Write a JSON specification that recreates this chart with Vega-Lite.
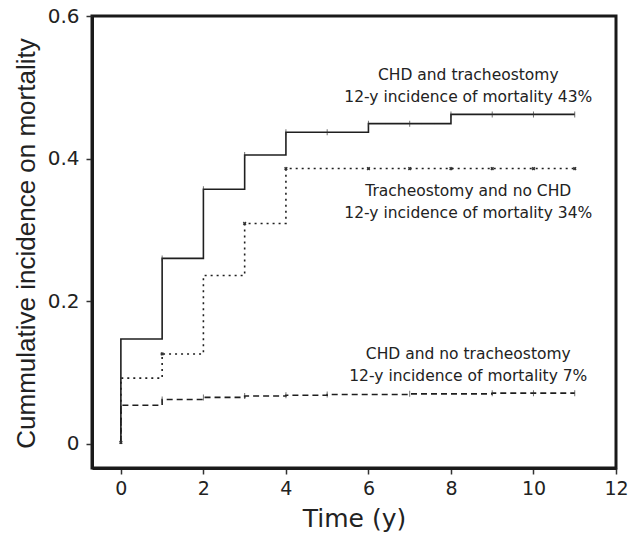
{
  "$schema": "https://vega.github.io/schema/vega-lite/v6.json",
  "autosize": {"type": "none"},
  "width": 524,
  "height": 452,
  "padding": {"left": 92, "top": 16, "right": 14, "bottom": 69},
  "background": "white",
  "config": {
    "view": {"stroke": "#1a1a1a", "strokeWidth": 3},
    "font": "DejaVu Sans",
    "axis": {
      "grid": false,
      "domainColor": "#1a1a1a",
      "domainWidth": 3,
      "tickColor": "#333",
      "tickWidth": 1.5,
      "tickSize": 6,
      "labelColor": "#222",
      "titleColor": "#222",
      "labelFont": "DejaVu Sans",
      "titleFont": "DejaVu Sans",
      "titleFontWeight": "normal"
    }
  },
  "datasets": {
    "curves": [
      {"group": "CHD and tracheostomy", "seq": 0, "t": 0, "y": 0},
      {"group": "CHD and tracheostomy", "seq": 1, "t": 0, "y": 0.147},
      {"group": "CHD and tracheostomy", "seq": 2, "t": 1, "y": 0.26},
      {"group": "CHD and tracheostomy", "seq": 3, "t": 2, "y": 0.357},
      {"group": "CHD and tracheostomy", "seq": 4, "t": 3, "y": 0.405},
      {"group": "CHD and tracheostomy", "seq": 5, "t": 4, "y": 0.437},
      {"group": "CHD and tracheostomy", "seq": 6, "t": 6, "y": 0.449},
      {"group": "CHD and tracheostomy", "seq": 7, "t": 8, "y": 0.462},
      {"group": "CHD and tracheostomy", "seq": 8, "t": 11, "y": 0.462},
      {"group": "Tracheostomy and no CHD", "seq": 0, "t": 0, "y": 0},
      {"group": "Tracheostomy and no CHD", "seq": 1, "t": 0, "y": 0.092},
      {"group": "Tracheostomy and no CHD", "seq": 2, "t": 1, "y": 0.126},
      {"group": "Tracheostomy and no CHD", "seq": 3, "t": 2, "y": 0.236},
      {"group": "Tracheostomy and no CHD", "seq": 4, "t": 3, "y": 0.309},
      {"group": "Tracheostomy and no CHD", "seq": 5, "t": 4, "y": 0.386},
      {"group": "Tracheostomy and no CHD", "seq": 6, "t": 11, "y": 0.386},
      {"group": "CHD and no tracheostomy", "seq": 0, "t": 0, "y": 0},
      {"group": "CHD and no tracheostomy", "seq": 1, "t": 0, "y": 0.054},
      {"group": "CHD and no tracheostomy", "seq": 2, "t": 1, "y": 0.062},
      {"group": "CHD and no tracheostomy", "seq": 3, "t": 2, "y": 0.065},
      {"group": "CHD and no tracheostomy", "seq": 4, "t": 3, "y": 0.067},
      {"group": "CHD and no tracheostomy", "seq": 5, "t": 4, "y": 0.068},
      {"group": "CHD and no tracheostomy", "seq": 6, "t": 5, "y": 0.069},
      {"group": "CHD and no tracheostomy", "seq": 7, "t": 7, "y": 0.07},
      {"group": "CHD and no tracheostomy", "seq": 8, "t": 9, "y": 0.071},
      {"group": "CHD and no tracheostomy", "seq": 9, "t": 11, "y": 0.071}
    ],
    "censor": [
      {"group": "CHD and tracheostomy", "t": 1, "y": 0.26},
      {"group": "CHD and tracheostomy", "t": 2, "y": 0.357},
      {"group": "CHD and tracheostomy", "t": 3, "y": 0.405},
      {"group": "CHD and tracheostomy", "t": 4, "y": 0.437},
      {"group": "CHD and tracheostomy", "t": 5, "y": 0.437},
      {"group": "CHD and tracheostomy", "t": 6, "y": 0.449},
      {"group": "CHD and tracheostomy", "t": 7, "y": 0.449},
      {"group": "CHD and tracheostomy", "t": 8, "y": 0.462},
      {"group": "CHD and tracheostomy", "t": 9, "y": 0.462},
      {"group": "CHD and tracheostomy", "t": 10, "y": 0.462},
      {"group": "CHD and tracheostomy", "t": 11, "y": 0.462},
      {"group": "CHD and no tracheostomy", "t": 1, "y": 0.062},
      {"group": "CHD and no tracheostomy", "t": 2, "y": 0.065},
      {"group": "CHD and no tracheostomy", "t": 3, "y": 0.067},
      {"group": "CHD and no tracheostomy", "t": 4, "y": 0.068},
      {"group": "CHD and no tracheostomy", "t": 5, "y": 0.069},
      {"group": "CHD and no tracheostomy", "t": 7, "y": 0.07},
      {"group": "CHD and no tracheostomy", "t": 9, "y": 0.071},
      {"group": "CHD and no tracheostomy", "t": 10, "y": 0.071},
      {"group": "CHD and no tracheostomy", "t": 11, "y": 0.071}
    ],
    "xcensor": [
      {"t": 0, "y": 0.002},
      {"t": 1, "y": 0.126},
      {"t": 3, "y": 0.309},
      {"t": 4, "y": 0.386},
      {"t": 6, "y": 0.386},
      {"t": 7, "y": 0.386},
      {"t": 8, "y": 0.386},
      {"t": 9, "y": 0.386},
      {"t": 10, "y": 0.386},
      {"t": 11, "y": 0.386}
    ],
    "notes": [
      {"t": 8.42, "y": 0.517, "label": "CHD and tracheostomy"},
      {"t": 8.42, "y": 0.486, "label": "12-y incidence of mortality 43%"},
      {"t": 8.42, "y": 0.3545, "label": "Tracheostomy and no CHD"},
      {"t": 8.42, "y": 0.3237, "label": "12-y incidence of mortality 34%"},
      {"t": 8.42, "y": 0.1259, "label": "CHD and no tracheostomy"},
      {"t": 8.42, "y": 0.095, "label": "12-y incidence of mortality 7%"}
    ]
  },
  "encoding": {
    "x": {
      "field": "t",
      "type": "quantitative",
      "scale": {"domain": [-0.7, 12], "nice": false, "zero": false},
      "axis": {
        "title": "Time (y)",
        "values": [0, 2, 4, 6, 8, 10, 12],
        "labelFontSize": 19,
        "labelPadding": 5,
        "labelFlush": false,
        "titleFontSize": 25,
        "titleBaseline": "alphabetic",
        "titleY": 58
      }
    },
    "y": {
      "field": "y",
      "type": "quantitative",
      "scale": {"domain": [-0.034, 0.6], "nice": false, "zero": false},
      "axis": {
        "title": "Cummulative incidence on mortality",
        "titleFont": "Liberation Sans",
        "values": [0, 0.2, 0.4, 0.6],
        "format": ".1~f",
        "labelFontSize": 20,
        "labelPadding": 7,
        "titleFontSize": 26,
        "titleBaseline": "alphabetic",
        "titleAngle": -90,
        "titleAlign": "center",
        "titleX": -58,
        "titleY": 227
      }
    }
  },
  "layer": [
    {
      "data": {"name": "curves"},
      "mark": {"type": "line", "interpolate": "step-after", "color": "#1f1f1f", "strokeWidth": 1.6},
      "encoding": {
        "detail": {"field": "group"},
        "order": {"field": "seq", "type": "quantitative"},
        "strokeDash": {
          "field": "group",
          "type": "nominal",
          "scale": {
            "domain": ["CHD and tracheostomy", "Tracheostomy and no CHD", "CHD and no tracheostomy"],
            "range": [[1, 0], [2, 4], [6, 4]]
          },
          "legend": null
        }
      }
    },
    {
      "data": {"name": "censor"},
      "mark": {"type": "tick", "orient": "vertical", "color": "#333", "size": 6, "thickness": 1},
      "encoding": {}
    },
    {
      "data": {"name": "xcensor"},
      "mark": {"type": "point", "shape": "cross", "angle": 45, "size": 14, "filled": true, "color": "#333", "opacity": 1},
      "encoding": {}
    },
    {
      "data": {"name": "notes"},
      "mark": {"type": "text", "font": "DejaVu Sans", "fontSize": 15.5, "align": "center", "baseline": "middle", "color": "#222"},
      "encoding": {"text": {"field": "label"}}
    }
  ]
}
